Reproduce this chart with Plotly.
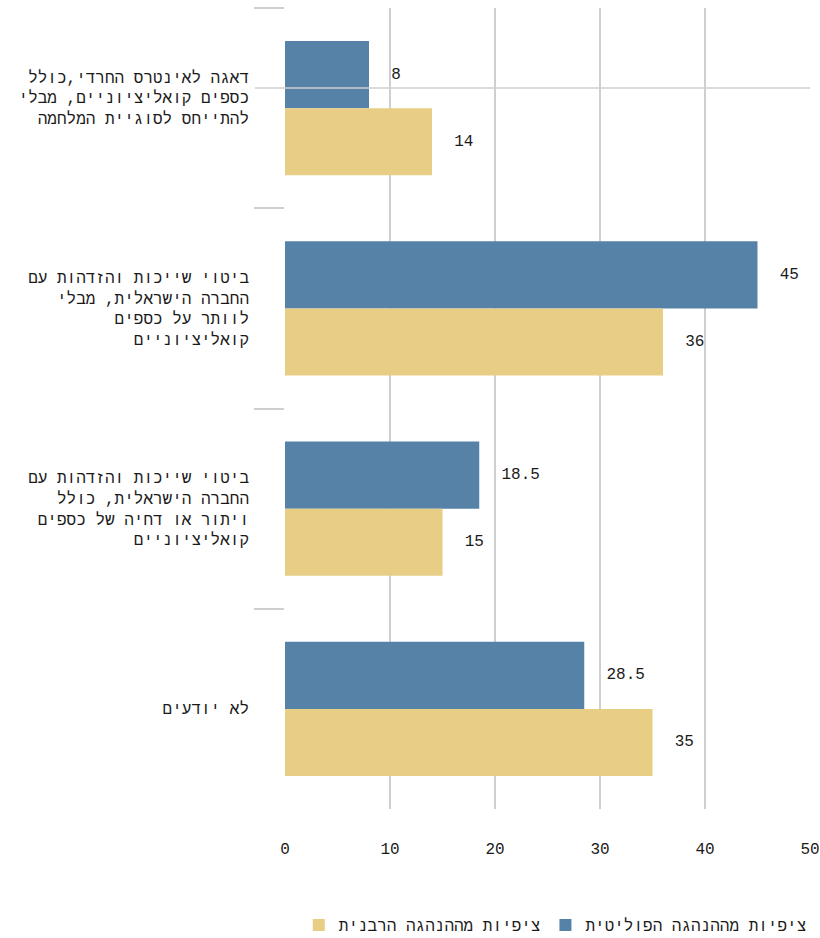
import plotly.graph_objects as go

categories = [
    "דאגה לאינטרס החרדי,כולל<br>כספים קואליציוניים, מבלי<br>להתייחס לסוגיית המלחמה<br>\u00a0",
    "ביטוי שייכות והזדהות עם<br>החברה הישראלית, מבלי<br>לוותר על כספים<br>קואליציוניים",
    "ביטוי שייכות והזדהות עם<br>החברה הישראלית, כולל<br>ויתור או דחיה של כספים<br>קואליציוניים",
    "לא יודעים",
]
series_names = ["ציפיות מההנהגה הפוליטית", "ציפיות מההנהגה הרבנית"]
political = [8, 45, 18.5, 28.5]
rabbinic = [14, 36, 15, 35]
x_ticks = [0, 10, 20, 30, 40, 50]

FONT = "Liberation Mono"
BLUE = "#5682A8"
YELLOW = "#E8CE84"
GRID = "#CFCFCF"
TXT = "#1a1a1a"
PAD = "\u00a0\u00a0"

fig = go.Figure()
for name, vals, col in [(series_names[0], political, BLUE), (series_names[1], rabbinic, YELLOW)]:
    fig.add_trace(go.Bar(
        y=categories, x=vals, name=name, orientation="h",
        marker=dict(color=col, line=dict(width=0)),
        text=[PAD + f"{v:g}" for v in vals],
        textposition="outside", cliponaxis=False,
        textfont=dict(family=FONT, size=16, color=TXT),
        hoverinfo="x+name",
    ))

fig.add_shape(type="line", xref="paper", yref="paper",
              x0=-30 / 525, x1=1, y0=0.9, y1=0.9,
              line=dict(color=GRID, width=1.5), layer="above")

fig.update_layout(
    width=820, height=938,
    margin=dict(l=285, r=10, t=8, b=129, autoexpand=False),
    paper_bgcolor="white", plot_bgcolor="white",
    barmode="group", bargap=0.33, bargroupgap=0,
    font=dict(family=FONT, size=16, color=TXT),
    showlegend=True,
    legend=dict(orientation="h", xref="container", yref="container",
                x=0.99, xanchor="right", y=1 - 925 / 938, yanchor="middle",
                traceorder="reversed", font=dict(family=FONT, size=16, color=TXT),
                itemsizing="constant"),
    xaxis=dict(range=[0, 50], tickvals=x_ticks, showgrid=True, gridcolor=GRID, gridwidth=1.5,
               zeroline=False, showline=False, ticks="", ticklabelstandoff=28, automargin=False,
               tickfont=dict(family=FONT, size=16, color=TXT)),
    yaxis=dict(autorange="reversed", showgrid=False, zeroline=False, showline=False,
               ticks="outside", tickson="boundaries", ticklen=30, tickcolor=GRID, tickwidth=1.5,
               automargin=False,
               tickfont=dict(family=FONT, size=16, color=TXT), ticklabelstandoff=35),
)

fig.write_html("out.html", config={"displayModeBar": False},
               post_script="document.body.style.margin='0';document.body.style.overflow='hidden';")
